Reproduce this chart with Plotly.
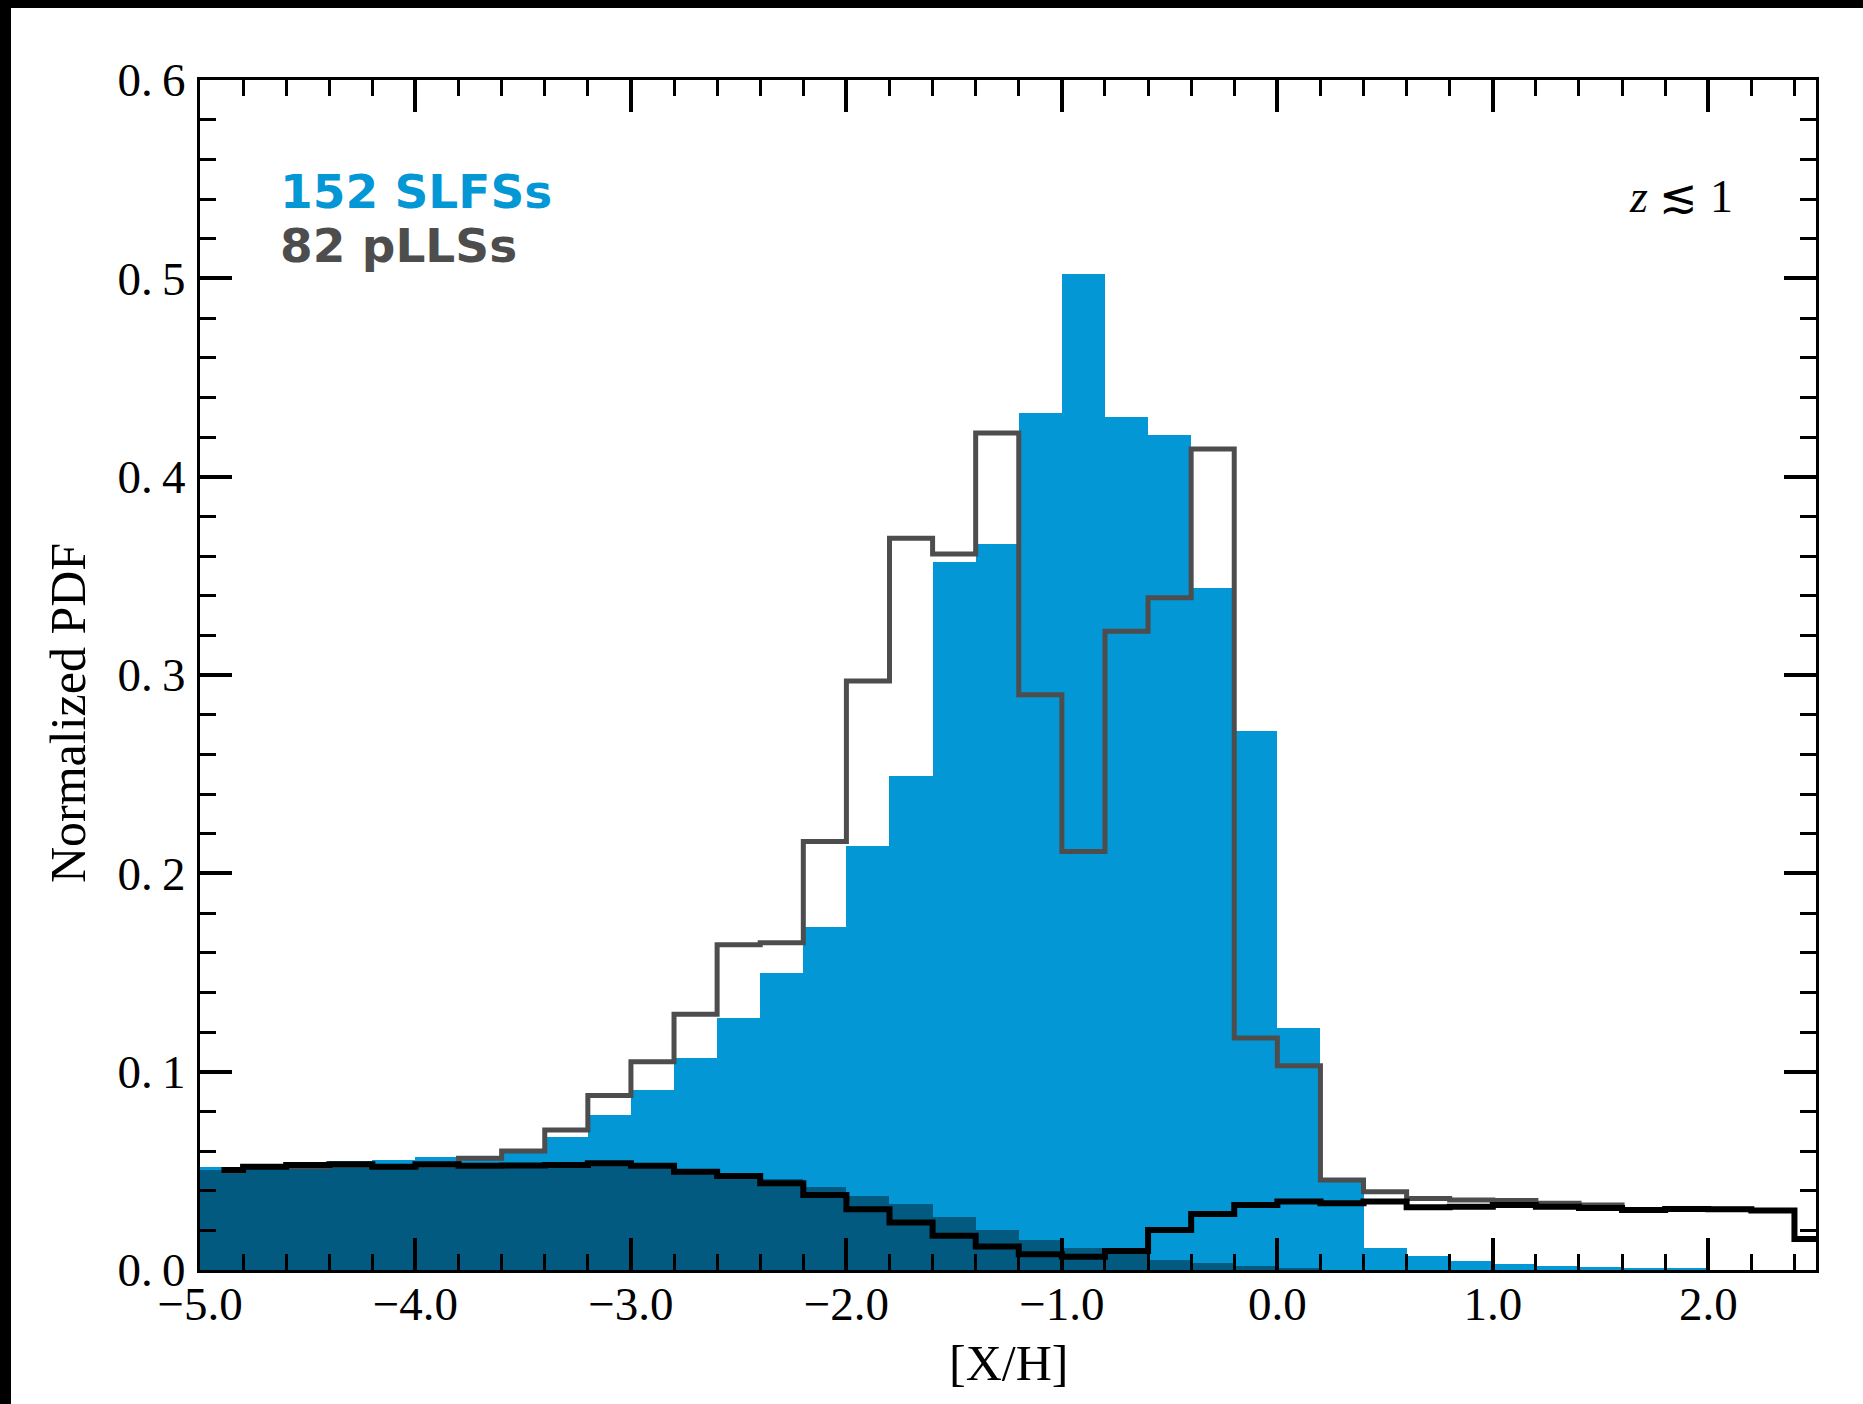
import plotly.graph_objects as go

# ---------------- data ----------------
# bin centres (bin width 0.2), from -4.9 to 2.5
bin_centers = [round(-4.9 + 0.2 * i, 1) for i in range(38)]
bin_width = 0.2

# 152 SLFSs (filled, light blue)
slfs_pdf = [0.052, 0.053, 0.054, 0.055, 0.0555, 0.057, 0.056, 0.061, 0.067, 0.078,
            0.091, 0.107, 0.127, 0.150, 0.173, 0.214, 0.249, 0.357, 0.366, 0.432,
            0.502, 0.430, 0.421, 0.344, 0.272, 0.122, 0.045, 0.0113, 0.0071, 0.0047,
            0.0030, 0.0022, 0.0017, 0.0012, 0.0008, 0.0, 0.0, 0.0]

# dark filled component
dark_pdf = [0.0505, 0.051, 0.052, 0.052, 0.052, 0.052, 0.052, 0.052, 0.052, 0.053,
            0.052, 0.049, 0.047, 0.0457, 0.0420, 0.0373, 0.0331, 0.0269, 0.0202, 0.0151,
            0.0113, 0.0105, 0.0052, 0.0033, 0.0022, 0.0010, 0.0, 0.0, 0.0, 0.0,
            0.0, 0.0, 0.0, 0.0, 0.0, 0.0, 0.0, 0.0]

# 82 pLLSs (grey step line)
plls_pdf = [0.050, 0.052, 0.052, 0.053, 0.052, 0.053, 0.0563, 0.0600, 0.0706, 0.088,
            0.105, 0.129, 0.164, 0.165, 0.216, 0.297, 0.369, 0.361, 0.422, 0.290,
            0.211, 0.322, 0.339, 0.414, 0.117, 0.103, 0.0454, 0.0395, 0.0361, 0.0353,
            0.0350, 0.0336, 0.0328, 0.0303, 0.0308, 0.0306, 0.0300, 0.0156]

# black step line
black_pdf = [0.0504, 0.0521, 0.0529, 0.0533, 0.0520, 0.0533, 0.0526, 0.0527, 0.0529, 0.0538,
             0.0526, 0.0495, 0.0474, 0.0437, 0.0378, 0.0306, 0.0239, 0.0173, 0.0118, 0.0079,
             0.0067, 0.0096, 0.0202, 0.0282, 0.0328, 0.0345, 0.0336, 0.0345, 0.0316, 0.0319,
             0.0328, 0.0319, 0.0312, 0.0303, 0.0308, 0.0306, 0.0300, 0.0156]

x_ticks = [-5.0, -4.0, -3.0, -2.0, -1.0, 0.0, 1.0, 2.0]
x_ticklabels = ["\u22125.0", "\u22124.0", "\u22123.0", "\u22122.0",
                "\u22121.0", "0.0", "1.0", "2.0"]
y_ticks = [0.0, 0.1, 0.2, 0.3, 0.4, 0.5, 0.6]
y_ticklabels = ["0.\u20090", "0.\u20091", "0.\u20092", "0.\u20093", "0.\u20094", "0.\u20095", "0.\u20096"]

BLUE = "#0497d6"
DARK = "#035a80"
GREY = "#4d4d4d"

fig = go.Figure()
fig.add_trace(go.Bar(x=bin_centers, y=slfs_pdf, width=bin_width,
                     marker=dict(color=BLUE, line=dict(width=0)), showlegend=False))
fig.add_trace(go.Bar(x=bin_centers, y=dark_pdf, width=bin_width,
                     marker=dict(color=DARK, line=dict(width=0)), showlegend=False))
fig.add_trace(go.Scatter(x=bin_centers, y=plls_pdf, mode="lines",
                         line=dict(color=GREY, width=5, shape="hvh"), showlegend=False))
fig.add_trace(go.Scatter(x=bin_centers, y=black_pdf, mode="lines",
                         line=dict(color="black", width=6, shape="hvh"), showlegend=False))

tickfont = dict(family="Liberation Serif", size=47, color="black")
axis_common = dict(showline=True, linewidth=3, linecolor="black", mirror="allticks",
                   ticks="inside", ticklen=32, tickwidth=4, tickcolor="black",
                   showgrid=False, zeroline=False, tickfont=tickfont)

fig.update_layout(
    width=1863, height=1404,
    margin=dict(l=200, r=47, t=80, b=134, autoexpand=False),
    template="none",
    paper_bgcolor="white", plot_bgcolor="white",
    barmode="overlay", bargap=0,
    xaxis=dict(range=[-5.0, 2.5], tickmode="array", tickvals=x_ticks, ticktext=x_ticklabels,
               minor=dict(dtick=0.2, tick0=-5.0, ticks="inside", ticklen=16, tickwidth=2.5,
                          tickcolor="black", showgrid=False),
               ticklabelstandoff=-9, **axis_common),
    yaxis=dict(range=[0, 0.6], tickmode="array", tickvals=y_ticks, ticktext=y_ticklabels,
               minor=dict(dtick=0.02, tick0=0, ticks="inside", ticklen=16, tickwidth=2.5,
                          tickcolor="black", showgrid=False),
               ticklabelstandoff=2, **axis_common),
)

annotations = [
    dict(text="<b>152 SLFSs</b>", x=0.0485, y=0.9067, xanchor="left", yanchor="middle",
         font=dict(family="DejaVu Sans", size=47, color=BLUE)),
    dict(text="<b>82 pLLSs</b>", x=0.0485, y=0.861, xanchor="left", yanchor="middle",
         font=dict(family="DejaVu Sans", size=47, color=GREY)),
    dict(text="<i>z</i> \u2272 1", x=0.950, y=0.9025, xanchor="right", yanchor="middle",
         font=dict(family="Liberation Serif", size=46, color="black")),
    dict(text="[X/H]", x=0.5, y=-0.078, xanchor="center", yanchor="middle",
         font=dict(family="Liberation Serif", size=50, color="black")),
    dict(text="Normalized PDF", x=-0.0817, y=0.468, xanchor="center", yanchor="middle",
         textangle=-90, font=dict(family="Liberation Serif", size=50, color="black")),
]
for a in annotations:
    a.update(xref="paper", yref="paper", showarrow=False)
fig.update_layout(annotations=annotations)

# black frame strips at top and left edge of the image
fig.add_shape(type="rect", xref="paper", yref="paper",
              x0=-200 / 1616, x1=-189 / 1616, y0=-134 / 1190, y1=1270 / 1190,
              fillcolor="black", line=dict(width=0), layer="above")
fig.add_shape(type="rect", xref="paper", yref="paper",
              x0=-200 / 1616, x1=1663 / 1616, y0=1262 / 1190, y1=1270 / 1190,
              fillcolor="black", line=dict(width=0), layer="above")

fig.write_html("out.html")
